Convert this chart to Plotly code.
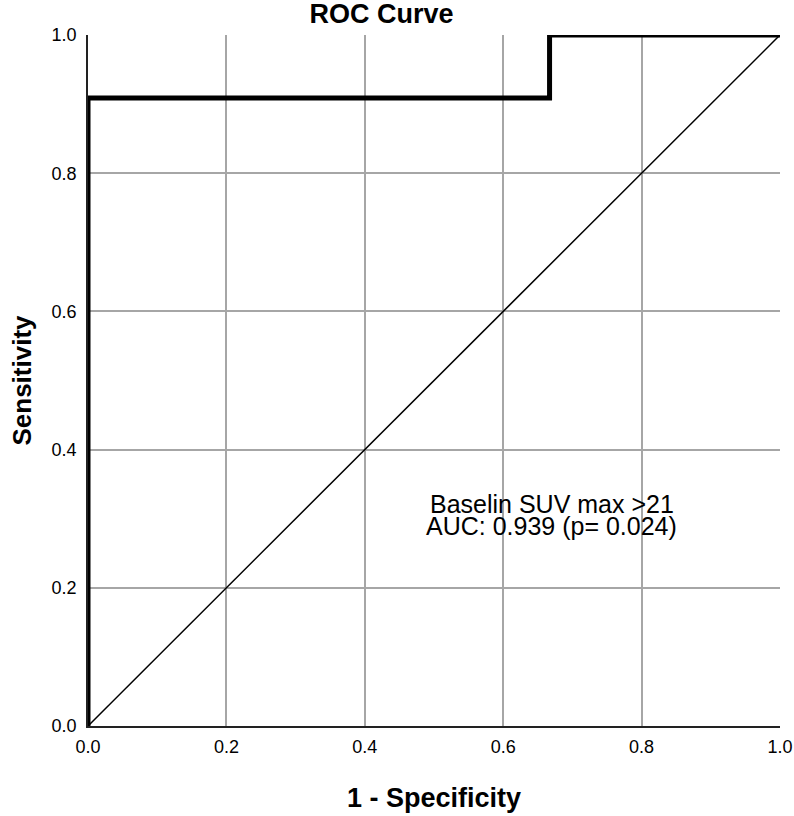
import plotly.graph_objects as go

# ROC curve data
fpr = [0.0, 0.0, 0.667, 0.667, 1.0]
tpr = [0.0, 0.909, 0.909, 1.0, 1.0]
ref_x = [0.0, 1.0]
ref_y = [0.0, 1.0]
tick_vals = [0.0, 0.2, 0.4, 0.6, 0.8, 1.0]
tick_text = ["0.0", "0.2", "0.4", "0.6", "0.8", "1.0"]
label_lines = ["Baselin SUV max >21", "AUC: 0.939 (p= 0.024)"]
label_x = 0.670
label_y = [0.322, 0.289]

FONT = "Liberation Sans, Arial, sans-serif"

fig = go.Figure()
fig.add_trace(go.Scatter(x=ref_x, y=ref_y, mode="lines",
                         line=dict(color="black", width=1.5), showlegend=False))
fig.add_trace(go.Scatter(x=fpr, y=tpr, mode="lines",
                         line=dict(color="black", width=5), showlegend=False))

for txt, yy in zip(label_lines, label_y):
    fig.add_annotation(x=label_x, y=yy, xref="x", yref="y", text=txt,
                       showarrow=False, yanchor="middle", xanchor="center",
                       font=dict(family=FONT, size=25, color="black"))

fig.update_layout(
    width=794, height=816,
    margin=dict(l=88, r=14, t=35, b=90),
    paper_bgcolor="white", plot_bgcolor="white",
    title=dict(text="<b>ROC Curve</b>", x=381.5/794, xanchor="center", xref="container",
               y=1 - 14/816, yanchor="middle", yref="container",
               font=dict(family=FONT, size=27, color="black")),
    font=dict(family=FONT, color="black"),
)
common = dict(range=[0, 1], tickvals=tick_vals, ticktext=tick_text,
              showgrid=True, gridcolor="#a6a6a6", gridwidth=1.5,
              showline=True, linecolor="#222222", linewidth=1.5,
              ticks="outside", tickcolor="rgba(0,0,0,0)",
              tickfont=dict(family=FONT, size=18, color="black"),
              zeroline=False, automargin=False)
fig.update_xaxes(**common, ticklen=4,
                 title=dict(text="<b>1 - Specificity</b>",
                            font=dict(family=FONT, size=27), standoff=32))
fig.update_yaxes(**common, ticklen=6,
                 title=dict(text="<b>Sensitivity</b>",
                            font=dict(family=FONT, size=26), standoff=13))

fig.write_html("out.html", config={"displayModeBar": False},
               post_script="document.body.style.margin='0';document.body.style.overflow='hidden';")
